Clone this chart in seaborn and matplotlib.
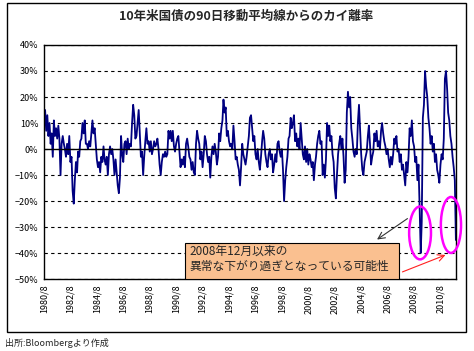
import matplotlib
matplotlib.use("Agg")
import matplotlib.pyplot as plt
from matplotlib.patches import Ellipse, Rectangle
import pandas as pd
import seaborn as sns

# 10年米国債の90日移動平均線からのカイ離率 (%), 月次で読み取り
dev_1980_08 = [10, 15, 7, 13, 5, 10, 2, 6, -3, 11,
               5, 8, 4, 9, 4, -10, 2, 5, 2, 0,
               -3, 2, -2, 5, -5, -3, -16, -21, -12, -5,
               -9, -1, -3, 3, 4, 10, 6, 11, 2, 2,
               0, 3, 1, 6, 11, 6, 8, 2, -4, -7,
               -5, -9, -3, -5, 1, -4, -6, -3, -10, -2]
dev_1985_08 = [1, -2, 0, -4, -10, -4, -9, -14, -17, -11,
               5, -2, -5, 2, 3, -2, 4, 0, 2, 1,
               10, 17, 13, 4, 5, 10, 15, 6, -3, -1,
               -10, -3, 3, 8, 2, 3, -1, 3, -2, 0,
               3, 1, 2, 4, 0, -6, -10, -5, -2, -3,
               -1, -3, -2, 7, 4, 7, 3, 7, 1, -1,
               2, 4, 5, -1, -7, -4]
dev_1991_02 = [-6, -3, -7, 2, 4, 1, -3, -4, -8, -5,
               -9, -10, 2, 7, 4, 2, -4, -1, -7, -2,
               5, 3, -2, -5, -3, -11, -3, 1, -2, 2,
               -1, -6, -3, 6, 3, 8, 11, 19, 14, 16,
               5, 7, 3, 1, 2, 0, 9, 3, -4, -3,
               -6, -8, -14, -7, 2, -2, -4, -6, -3, 1,
               5, 12]
dev_1996_04 = [13, 8, 3, 5, -2, -4, 0, -5, -8, -3,
               3, 7, 4, -2, -5, -7, -2, 0, -4, -2,
               -9, -6, -2, -5, 2, 3, -1, -3, 0, -8,
               -20, -12, -7, -3, 4, 5, 12, 8, 10, 13,
               3, 6, 1, 4, 0, 10, 4, -2, -4, 1,
               -5, 0, -6, -2, -4, -7, -5, -12, -6, -3,
               2, 5, 7, 2]
dev_2001_08 = [3, -10, -6, -11, -4, 10, 5, 9, 3, 5,
               -2, -5, -15, -19, -10, -2, 2, 5, 0, 4,
               -3, -13, -8, 14, 22, 16, 20, 8, 4, -1,
               -3, 0, -2, 10, 17, 8, -2, -8, -10, -5,
               -3, -1, 5, 9, 2, -6, -3, -1, 6, 3,
               7, 1, 3, 0, 7, 10, 6, 3, 1, -2,
               0, -4, -7]
dev_2006_11 = [-3, -6, -2, 4, 2, 5, -1, 0, -5, -2,
               -8, -6, -10, -14, -5, -9, -3, 8, 5, 11,
               3, 1, -5, -3, -12, -6, -22, -40, -28, 12,
               17, 30, 24, 20, 12, 8, 2, 5, -1, 2,
               -5, -2, -8, -10, -13, -6, -2, -4, 4, 27,
               30, 23, 14, 11, 5, 2, -3, -7, -12, -35]

values = dev_1980_08 + dev_1985_08 + dev_1991_02 + dev_1996_04 + dev_2001_08 + dev_2006_11
dates = pd.date_range("1980-08-01", periods=len(values), freq="MS")
df = pd.DataFrame({"date": dates, "dev": values})

y_ticks = [40, 30, 20, 10, 0, -10, -20, -30, -40, -50]
x_ticks = pd.date_range("1980-08-01", "2010-08-01", freq="24MS")

sns.set_theme(style="white")
plt.rcParams["font.family"] = ["Noto Sans CJK JP", "DejaVu Sans"]

fig = plt.figure(figsize=(4.74, 3.51), dpi=100)
ax = fig.add_axes([0.0928, 0.2051, 0.869, 0.6667])

sns.lineplot(data=df, x="date", y="dev", color="#000080", linewidth=1.3, ax=ax)

ax.set_xlim(dates[0], dates[-1])
ax.set_ylim(-50, 40)
ax.set_yticks(y_ticks)
ax.set_yticklabels([f"{v}%".replace("-", "\u2212") for v in y_ticks], fontsize=6.5)
ax.set_xticks(x_ticks)
ax.set_xticklabels([f"{d.year}/{d.month}" for d in x_ticks], rotation=90, fontsize=6.5)
ax.tick_params(axis="both", length=0, pad=4, colors="black")
ax.set_xlabel("")
ax.set_ylabel("")

ax.yaxis.grid(True, linestyle=(0, (3, 3)), color="black", linewidth=0.8)
ax.xaxis.grid(False)
ax.axhline(0, color="black", linewidth=1.0)
for s in ax.spines.values():
    s.set_color("black")
    s.set_linewidth(1.0)

# 注記
ax.add_patch(Rectangle((0.342, 0.0), 0.52, 0.154, transform=ax.transAxes,
                       facecolor="#FAC090", edgecolor="black", linewidth=0.8, zorder=5))
ax.text(0.354, 0.085, "2008年12月以来の\n異常な下がり過ぎとなっている可能性",
        transform=ax.transAxes, fontsize=8.5, va="center", ha="left",
        linespacing=1.25, zorder=6)
ax.add_patch(Ellipse((0.913, 0.197), 0.053, 0.226, transform=ax.transAxes,
                     fill=False, edgecolor="#FF00FF", linewidth=1.8, zorder=7))
ax.add_patch(Ellipse((0.988, 0.231), 0.049, 0.239, transform=ax.transAxes,
                     fill=False, edgecolor="#FF00FF", linewidth=1.8, zorder=7, clip_on=False))
ax.annotate("", xy=(0.803, 0.162), xytext=(0.888, 0.265), xycoords="axes fraction",
            arrowprops=dict(arrowstyle="->", color="#333333", lw=0.8), zorder=8)
ax.annotate("", xy=(0.981, 0.107), xytext=(0.864, 0.026), xycoords="axes fraction",
            arrowprops=dict(arrowstyle="->", color="#FF2020", lw=0.8), zorder=8)

fig.text(0.519, 0.952, "10年米国債の90日移動平均線からのカイ離率",
         ha="center", va="center", fontsize=9, fontweight="bold")
fig.text(0.011, 0.023, "出所:Bloombergより作成", ha="left", va="center", fontsize=6.5)
fig.patches.append(Rectangle((0.0148, 0.0541), 0.968, 0.937, transform=fig.transFigure,
                             fill=False, edgecolor="black", linewidth=1.0))

fig.savefig("out.png", dpi=100)
